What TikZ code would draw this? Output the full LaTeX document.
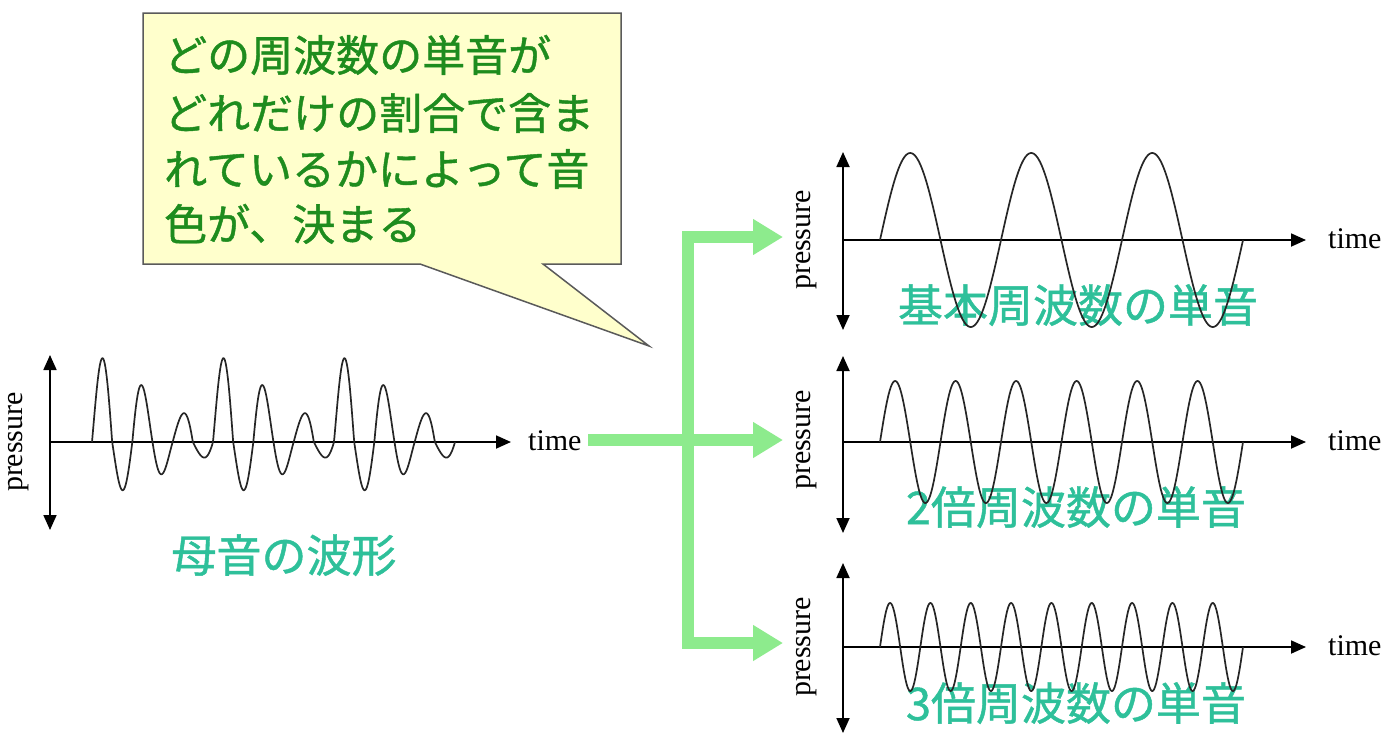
\documentclass[tikz,border=0pt]{standalone}
\usepackage{fontspec}
\setmainfont{Liberation Serif}
\newfontfamily\jpfont[FakeBold=1]{Noto Sans CJK JP}
\usetikzlibrary{arrows.meta}
\definecolor{calloutfill}{HTML}{FFFFCC}
\definecolor{calloutedge}{HTML}{5A5A5A}
\definecolor{callouttext}{HTML}{1E8C1E}
\definecolor{labelteal}{HTML}{2EC09A}
\definecolor{flowgreen}{HTML}{8DEB8D}
\begin{document}
\begin{tikzpicture}[x=1pt,y=-1pt,
  axisline/.style={line width=1.8pt, black, -{Triangle[length=15pt,width=13pt]}},
  vaxis/.style={line width=1.8pt, black, {Triangle[length=15pt,width=13pt]}-{Triangle[length=15pt,width=13pt]}},
  wave/.style={line width=1.7pt, black!85, line join=round},
  axlabel/.style={font=\fontsize{30}{30}\selectfont, inner sep=0pt},
  plabel/.style={font=\fontsize{30}{30}\selectfont, inner sep=0pt, rotate=90},
  teal/.style={font=\jpfont\fontsize{45}{45}\selectfont, text=labelteal, inner sep=0pt, text height=39.6pt, text depth=5.4pt},
  callline/.style={font=\jpfont\fontsize{43}{43}\selectfont, text=callouttext, inner sep=0pt, anchor=west, text height=37.8pt, text depth=5.2pt},
  flow/.style={line width=12pt, flowgreen, line join=miter},
  flowtip/.style={-{Triangle[length=30pt,width=34pt]}},
]
\useasboundingbox (0,0) rectangle (1381,737);
\fill[white] (0,0) rectangle (1381,737);

% ---------- callout ----------
\draw[fill=calloutfill, draw=calloutedge, line width=1.5pt, line join=miter]
  (143,13) -- (621,13) -- (621,264) -- (543,264) -- (649,346) -- (420,264) -- (143,264) -- cycle;
\node[callline] (c1) at (164,55) {どの周波数の単音が};
\node[callline] (c2) at (164,113) {どれだけの割合で含ま};
\node[callline] (c3) at (164,169) {れているかによって音};
\node[callline] (c4) at (164,224) {色が、決まる};

% ---------- green flow arrows ----------
\coordinate (src) at (588,440);
\coordinate (junc) at (688,440);
\coordinate (tipmid) at (783,440);
\coordinate (jtop) at (688,237);
\coordinate (jbot) at (688,643);
\coordinate (tiptop) at (783,237);
\coordinate (tipbot) at (783,643);
\draw[flow, {Triangle[length=30pt,width=34pt]}-{Triangle[length=30pt,width=34pt]}] (tiptop) -- (jtop) -- (jbot) -- (tipbot);
\draw[flow, flowtip] (src) -- (junc) -- (tipmid);

% ---------- left panel: vowel waveform ----------
\node[teal] (lvowel) at (284,555) {母音の波形};
\coordinate (L-top) at (50,355);
\coordinate (L-bot) at (50,530);
\coordinate (L-o) at (50,442);
\coordinate (L-end) at (511,442);
\draw[vaxis] (L-bot) -- (L-top);
\draw[axisline] (L-o) -- (L-end);
\node[axlabel, anchor=west] (Ltime) at (528,441) {time};
\node[plabel] (Lpress) at (19,442) {pressure};
\draw[wave] plot[domain=0:363, samples=600, variable=\t]
  ({92+\t}, {442 - (56+32*cos(2.975207*\t-60))*max(sin(8.925620*\t),0) - (31.7+19*cos(2.975207*\t-120))*min(sin(8.925620*\t),0)});

% ---------- right panel 1: fundamental ----------
\node[teal] (r1lab) at (1078,305) {基本周波数の単音};
\coordinate (A-top) at (843,152);
\coordinate (A-bot) at (843,330);
\coordinate (A-o) at (843,240);
\coordinate (A-end) at (1306,240);
\draw[vaxis] (A-bot) -- (A-top);
\draw[axisline] (A-o) -- (A-end);
\node[axlabel, anchor=west] (Atime) at (1328,239) {time};
\node[plabel] (Apress) at (807,240) {pressure};
\draw[wave] plot[domain=0:363, samples=300, variable=\t] ({880+\t}, {240 - 87*sin(2.975207*\t)});

% ---------- right panel 2: 2x ----------
\node[teal] (r2lab) at (1076,507) {2倍周波数の単音};
\coordinate (B-top) at (843,356);
\coordinate (B-bot) at (843,533);
\coordinate (B-o) at (843,442);
\coordinate (B-end) at (1306,442);
\draw[vaxis] (B-bot) -- (B-top);
\draw[axisline] (B-o) -- (B-end);
\node[axlabel, anchor=west] (Btime) at (1328,441) {time};
\node[plabel] (Bpress) at (807,440) {pressure};
\draw[wave] plot[domain=0:363, samples=500, variable=\t] ({880+\t}, {442 - 61*sin(5.950413*\t)});

% ---------- right panel 3: 3x ----------
\node[teal] (r3lab) at (1076,703) {3倍周波数の単音};
\coordinate (C-top) at (843,563);
\coordinate (C-bot) at (843,733);
\coordinate (C-o) at (843,647);
\coordinate (C-end) at (1306,647);
\draw[vaxis] (C-bot) -- (C-top);
\draw[axisline] (C-o) -- (C-end);
\node[axlabel, anchor=west] (Ctime) at (1328,646) {time};
\node[plabel] (Cpress) at (807,647) {pressure};
\draw[wave] plot[domain=0:363, samples=700, variable=\t] ({880+\t}, {647 - 44*sin(8.925620*\t)});
\end{tikzpicture}
\end{document}
